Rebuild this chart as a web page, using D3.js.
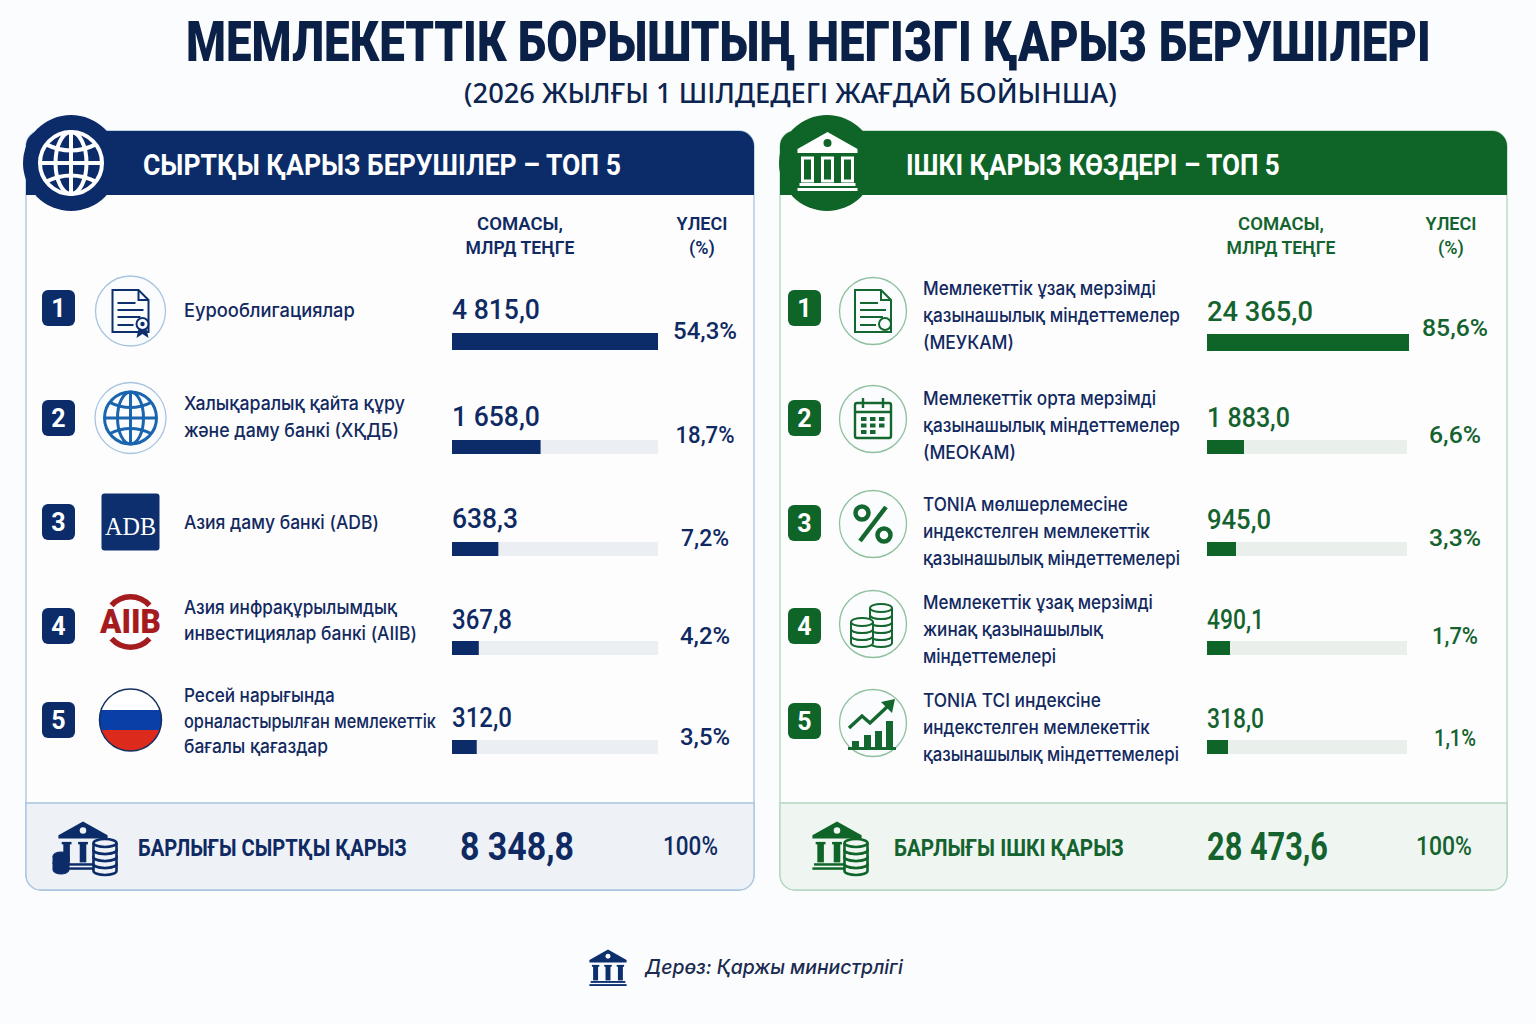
<!DOCTYPE html>
<html>
<head>
<meta charset="utf-8">
<script src="https://cdn.jsdelivr.net/npm/d3@7"></script>
<style>
  html, body { margin: 0; padding: 0; background: #fbfcfd; }
  svg { display: block; }
  text { font-family: Roboto, "Noto Sans", sans-serif; }
</style>
</head>
<body>
<div id="chart"></div>
<script>
// data
var titleText = "МЕМЛЕКЕТТІК БОРЫШТЫҢ НЕГІЗГІ ҚАРЫЗ БЕРУШІЛЕРІ";
var subtitleText = "(2026 ЖЫЛҒЫ 1 ШІЛДЕДЕГІ ЖАҒДАЙ БОЙЫНША)";
var sourceText = "Дерөз: Қаржы министрлігі";
var amountHead = ["СОМАСЫ,", "МЛРД ТЕҢГЕ"];
var shareHead = ["ҮЛЕСІ", "(%)"];

var extTitle = "СЫРТҚЫ ҚАРЫЗ БЕРУШІЛЕР – ТОП 5";
var extNames = [
  ["Еурооблигациялар"],
  ["Халықаралық қайта құру", "және даму банкі (ХҚДБ)"],
  ["Азия даму банкі (ADB)"],
  ["Азия инфрақұрылымдық", "инвестициялар банкі (AIIB)"],
  ["Ресей нарығында", "орналастырылған мемлекеттік", "бағалы қағаздар"]
];
var extValues = ["4 815,0", "1 658,0", "638,3", "367,8", "312,0"];
var extShares = ["54,3%", "18,7%", "7,2%", "4,2%", "3,5%"];
// drawn bar lengths in the picture, % of the track (not proportional to the amounts)
var extBars = [100, 43, 22.5, 13, 12];
var extTotalLabel = "БАРЛЫҒЫ СЫРТҚЫ ҚАРЫЗ";
var extTotal = "8 348,8";

var intTitle = "ІШКІ ҚАРЫЗ КӨЗДЕРІ – ТОП 5";
var intNames = [
  ["Мемлекеттік ұзақ мерзімді", "қазынашылық міндеттемелер", "(МЕУКАМ)"],
  ["Мемлекеттік орта мерзімді", "қазынашылық міндеттемелер", "(МЕОКАМ)"],
  ["TONIA мөлшерлемесіне", "индекстелген мемлекеттік", "қазынашылық міндеттемелері"],
  ["Мемлекеттік ұзақ мерзімді", "жинақ қазынашылық", "міндеттемелері"],
  ["TONIA TCI индексіне", "индекстелген мемлекеттік", "қазынашылық міндеттемелері"]
];
var intValues = ["24 365,0", "1 883,0", "945,0", "490,1", "318,0"];
var intShares = ["85,6%", "6,6%", "3,3%", "1,7%", "1,1%"];
var intBars = [101, 18.5, 14.5, 11.5, 10.5];
var intTotalLabel = "БАРЛЫҒЫ ІШКІ ҚАРЫЗ";
var intTotal = "28 473,6";
var totalShare = "100%";

var ranks = [1, 2, 3, 4, 5];

var svg = d3.select("#chart").append("svg")
  .attr("width", 1536).attr("height", 1024);

svg.append("rect").attr("width", 1536).attr("height", 1024).attr("fill", "#fbfcfd");

// text helper, scales x to the measured width like the condensed face in the picture
function label(g, str, x, y, o) {
  o = o || {};
  var t = g.append("text").text(str)
    .attr("dominant-baseline", "central")
    .attr("text-anchor", o.anchor || "start")
    .attr("font-size", o.size || 19)
    .attr("font-weight", o.weight || 400)
    .attr("fill", o.fill || "#12295f");
  if (o.family) t.style("font-family", o.family);
  if (o.style) t.attr("font-style", o.style);
  var k = o.w ? o.w / t.node().getComputedTextLength() : 1;
  t.attr("transform", "translate(" + x + "," + y + ") scale(" + k + ",1)");
  return t;
}

label(svg, titleText, 186, 42, { size: 56, weight: 900, fill: "#0a2047", w: 1245 });
label(svg, subtitleText, 464, 93, { size: 27, weight: 500, fill: "#0c2450", w: 653, family: "'Noto Sans', sans-serif" });

// icons, all drawn around 0,0
function bank(g, c, bg, solid) {
  g.append("path").attr("fill", c).attr("d", "M0,-30 L30,-13 L30,-9 L-30,-9 L-30,-13 Z");
  g.append("circle").attr("cy", -19).attr("r", 4).attr("fill", bg);
  [-20, 0, 20].forEach(function (x) {
    if (solid) {
      g.append("rect").attr("x", x - 6).attr("y", -5).attr("width", 12).attr("height", 3).attr("fill", c);
      g.append("rect").attr("x", x - 4).attr("y", -4).attr("width", 8).attr("height", 24).attr("fill", c);
    } else {
      g.append("rect").attr("x", x - 5).attr("y", -4).attr("width", 10).attr("height", 23)
        .attr("fill", "none").attr("stroke", c).attr("stroke-width", 3);
    }
  });
  g.append("rect").attr("x", -28).attr("y", 21).attr("width", 56).attr("height", 3).attr("fill", c);
  g.append("rect").attr("x", -30).attr("y", 26).attr("width", 60).attr("height", 3).attr("fill", c);
}

function globe(g, r, c, sw) {
  var s = g.append("g").attr("fill", "none").attr("stroke", c).attr("stroke-width", sw);
  s.append("circle").attr("r", r);
  s.append("ellipse").attr("rx", r * 0.5).attr("ry", r);
  s.append("line").attr("y1", -r).attr("y2", r);
  s.append("line").attr("x1", -r).attr("x2", r);
  s.append("path").attr("d", "M" + (-r * 0.8) + "," + (-r * 0.6) + " Q0," + (-r * 0.2) + " " + (r * 0.8) + "," + (-r * 0.6));
  s.append("path").attr("d", "M" + (-r * 0.8) + "," + (r * 0.6) + " Q0," + (r * 0.2) + " " + (r * 0.8) + "," + (r * 0.6));
}

function doc(g, c, seal) {
  g.append("path").attr("fill", "#fbfcfd").attr("stroke", c).attr("stroke-width", 2)
    .attr("d", "M-18,-21 H8 L18,-11 V21 H-18 Z");
  g.append("path").attr("fill", "none").attr("stroke", c).attr("stroke-width", 2)
    .attr("d", "M8,-21 V-11 H18 M-13,-8 H5 M-13,-1 H13 M-13,6 H10 M-13,14 H3");
  g.append("circle").attr("cx", 12).attr("cy", 13).attr("r", 6).attr("fill", "#fbfcfd")
    .attr("stroke", c).attr("stroke-width", 2);
  if (seal) {
    g.append("path").attr("fill", c).attr("d", "M8,18 L6,27 L12,23 L18,27 L16,18 Z");
    g.append("circle").attr("cx", 12).attr("cy", 13).attr("r", 2.2).attr("fill", c);
  }
}

function calendar(g, c) {
  var s = g.append("g").attr("fill", "none").attr("stroke", c).attr("stroke-width", 2.4);
  s.append("rect").attr("x", -18).attr("y", -16).attr("width", 36).attr("height", 35).attr("rx", 2);
  s.append("path").attr("d", "M-18,-7 H18 M-10,-21 V-11 M10,-21 V-11");
  d3.range(3).forEach(function (i) {
    d3.range(3).forEach(function (j) {
      if (j == 2 && i == 2) return;
      g.append("rect").attr("x", -12 + i * 9).attr("y", -2 + j * 6.5)
        .attr("width", 5.5).attr("height", 4).attr("fill", c);
    });
  });
}

function percent(g, c) {
  var s = g.append("g").attr("fill", "none").attr("stroke", c).attr("stroke-width", 4.5);
  s.append("circle").attr("cx", -11).attr("cy", -11).attr("r", 6.5);
  s.append("circle").attr("cx", 11).attr("cy", 11).attr("r", 6.5);
  s.append("line").attr("x1", 13).attr("y1", -17).attr("x2", -13).attr("y2", 17);
}

function coinStack(g, x, bottom, n, c, w, bg, sw) {
  d3.range(n).forEach(function (i) {
    var y = bottom - i * 7;
    g.append("path").attr("fill", bg).attr("stroke", c).attr("stroke-width", sw || 2)
      .attr("d", "M" + (x - w) + "," + (y - 7) + " V" + y + " A" + w + ",4 0 0 0 " + (x + w) + "," + y + " V" + (y - 7));
    g.append("ellipse").attr("cx", x).attr("cy", y - 7).attr("rx", w).attr("ry", 4)
      .attr("fill", bg).attr("stroke", c).attr("stroke-width", sw || 2);
  });
}

function coins(g, c) {
  coinStack(g, 8, 19, 5, c, 11, "#fbfcfd");
  coinStack(g, -11, 19, 3, c, 11, "#fbfcfd");
}

function growth(g, c) {
  [[-21, 10, 8], [-9, 4, 14], [2, 0, 18], [13, -10, 28]].forEach(function (b) {
    g.append("rect").attr("x", b[0]).attr("y", b[1] + 8).attr("width", 7).attr("height", b[2] - 1).attr("fill", c);
  });
  g.append("rect").attr("x", -25).attr("y", 24).attr("width", 48).attr("height", 3).attr("fill", c);
  g.append("path").attr("fill", "none").attr("stroke", c).attr("stroke-width", 3.5)
    .attr("d", "M-24,5 L-11,-7 L-3,0 L15,-17");
  g.append("path").attr("fill", c).attr("d", "M8,-21 L22,-24 L19,-10 Z");
}

function adb(g) {
  g.append("rect").attr("x", -29).attr("y", -28.5).attr("width", 58).attr("height", 57).attr("rx", 3).attr("fill", "#0d2f6e");
  label(g, "ADB", 0, 4, { size: 26, anchor: "middle", fill: "#fff", family: "'Liberation Serif', serif", w: 51 });
}

function aiib(g) {
  var red = "#a51c1f";
  var arc = d3.arc().innerRadius(22.5).outerRadius(28);
  g.append("path").attr("fill", red).attr("d", arc({ startAngle: -0.85, endAngle: 0.85 }));
  g.append("path").attr("fill", red).attr("d", arc({ startAngle: Math.PI - 0.85, endAngle: Math.PI + 0.85 }));
  label(g, "AIIB", 0, 0, { size: 33, weight: 900, anchor: "middle", fill: red, w: 61 });
}

function flag(g) {
  var r = 31;
  var id = "flagclip";
  g.append("clipPath").attr("id", id).append("circle").attr("r", r);
  var f = g.append("g").attr("clip-path", "url(#" + id + ")");
  f.append("rect").attr("x", -r).attr("y", -r).attr("width", 2 * r).attr("height", 2 * r).attr("fill", "#ffffff");
  f.append("rect").attr("x", -r).attr("y", -10).attr("width", 2 * r).attr("height", 20).attr("fill", "#0b3fa8");
  f.append("rect").attr("x", -r).attr("y", 10).attr("width", 2 * r).attr("height", 21).attr("fill", "#dc2a1c");
  g.append("circle").attr("r", r).attr("fill", "none").attr("stroke", "#14305f").attr("stroke-width", 1.5);
}

function ring(g, r, c) {
  g.append("circle").attr("r", r).attr("fill", "#fbfcfd").attr("stroke", c).attr("stroke-width", 1.3);
}

function extIcon(g, i) {
  if (i == 0) { ring(g, 35, "#a9c4df"); doc(g, "#0d2f6e", true); }
  if (i == 1) { ring(g, 35.5, "#a9c4df"); globe(g, 26, "#1b64ae", 3); }
  if (i == 2) adb(g);
  if (i == 3) aiib(g);
  if (i == 4) flag(g);
}

function intIcon(g, i) {
  ring(g, 33.5, "#8fc09f");
  var c = "#14672f";
  if (i == 0) doc(g, c, false);
  if (i == 1) calendar(g, c);
  if (i == 2) percent(g, c);
  if (i == 3) coins(g, c);
  if (i == 4) growth(g, c);
}

// one panel
function panel(p) {
  var g = svg.append("g");
  var w = p.w, x0 = p.x, x1 = p.x + w, top = 131, foot = 803, bot = 890;

  g.append("rect").attr("x", x0).attr("y", top).attr("width", w).attr("height", bot - top)
    .attr("rx", 15).attr("fill", "#fdfdfe").attr("stroke", p.border).attr("stroke-width", 1.3);
  g.append("path").attr("fill", p.tint).attr("stroke", p.border).attr("stroke-width", 1.3)
    .attr("d", "M" + x0 + "," + foot + " H" + x1 + " V" + (bot - 15) + " a15,15 0 0 1 -15,15 H" + (x0 + 15) + " a15,15 0 0 1 -15,-15 Z");
  g.append("path").attr("fill", p.dark)
    .attr("d", "M" + x0 + ",195 V" + (top + 15) + " a15,15 0 0 1 15,-15 H" + (x1 - 15) + " a15,15 0 0 1 15,15 V195 Z");

  g.append("circle").attr("cx", p.circleX).attr("cy", 163).attr("r", 48).attr("fill", p.dark);
  p.headIcon(g.append("g").attr("transform", "translate(" + p.circleX + ",163)"));

  label(g, p.title, p.titleX, 165, { size: 29, weight: 700, fill: "#fff", w: p.titleW });

  amountHead.forEach(function (s, i) {
    label(g, s, p.amountX, 223.5 + i * 24, { size: 18, weight: 600, anchor: "middle", fill: p.headFill, w: [86, 109][i] });
  });
  shareHead.forEach(function (s, i) {
    label(g, s, p.shareHeadX, 223.5 + i * 24, { size: 18, weight: 600, anchor: "middle", fill: p.headFill });
  });

  var x = d3.scaleLinear().domain([0, 100]).range([0, p.trackW]);

  ranks.forEach(function (r, i) {
    var row = p.rows[i];
    g.append("rect").attr("x", p.badgeX).attr("y", row.badge - 18).attr("width", 33).attr("height", 36)
      .attr("rx", 6).attr("fill", p.dark);
    label(g, r, p.badgeX + 16.5, row.badge, { size: 25, weight: 700, anchor: "middle", fill: "#fff" });

    p.icon(g.append("g").attr("transform", "translate(" + p.iconX + "," + row.icon + ")"), i);

    p.names[i].forEach(function (s, j) {
      var n = p.names[i].length;
      label(g, s, p.nameX, row.name + (j - (n - 1) / 2) * row.lead, {
        size: 18.5, weight: 500, fill: "#12295f", family: "Inter, 'Noto Sans', sans-serif", w: row.widths[j]
      });
    });

    label(g, p.values[i], p.barX, row.value, { size: 28, weight: 500, fill: p.valueFill, w: p.valueW[i] });

    var h = i == 0 ? 17 : 14;
    g.append("rect").attr("x", p.barX).attr("y", row.bar).attr("width", x(100)).attr("height", h).attr("fill", p.track);
    g.append("rect").attr("x", p.barX).attr("y", row.bar).attr("width", x(p.bars[i])).attr("height", h).attr("fill", p.dark);

    label(g, p.shares[i], p.shareX, row.share, { size: 24, weight: 500, anchor: "middle", fill: p.valueFill, w: p.shareW[i] });
  });

  var ti = g.append("g").attr("transform", "translate(" + p.bankX + ",846)");
  bank(ti.append("g").attr("transform", "scale(0.82)"), p.dark, p.tint, true);
  if (p.smallPile) coinStack(ti, -22, 24, 2, p.dark, 8, p.dark, 1);
  coinStack(ti, p.coinX, 25, 4, p.dark, 11.5, p.tint, 2.6);

  label(g, p.totalLabel, p.totalLabelX, 847, { size: 24, weight: 700, fill: p.headFill, w: p.totalLabelW });
  label(g, p.total, p.totalX, 847, { size: 38, weight: 700, fill: p.headFill, w: p.totalW });
  label(g, totalShare, p.pctX, 846, { size: 26, weight: 500, fill: p.headFill, w: p.pctW });
}

panel({
  x: 26, w: 728, circleX: 71, dark: "#0b2c69", border: "#a9c4df", tint: "#eef2f7", track: "#ebeef3",
  title: extTitle, titleX: 143, titleW: 478, headFill: "#0f2a63", valueFill: "#0f2a63",
  amountX: 520, shareHeadX: 702, badgeX: 42, iconX: 130.5, nameX: 184, barX: 452, trackW: 206, shareX: 705,
  names: extNames, values: extValues, shares: extShares, bars: extBars,
  valueW: [88, 88, 66, 60, 60], shareW: [64, 59, 48, 50, 50],
  icon: extIcon, headIcon: function (g) { globe(g, 31, "#fff", 4); },
  rows: [
    { badge: 308, icon: 311, name: 310, lead: 27, value: 310, bar: 333, share: 331, widths: [171] },
    { badge: 418, icon: 418, name: 416, lead: 27, value: 417, bar: 440, share: 435, widths: [221, 215] },
    { badge: 522, icon: 522, name: 522, lead: 27, value: 519, bar: 542, share: 538, widths: [195] },
    { badge: 626, icon: 622, name: 620, lead: 26, value: 619, bar: 641, share: 636, widths: [213, 233] },
    { badge: 720, icon: 720, name: 721, lead: 25.5, value: 717, bar: 740, share: 737, widths: [151, 252, 144] }
  ],
  bankX: 83, coinX: 22, smallPile: true, totalLabel: extTotalLabel, totalLabelX: 138, totalLabelW: 269,
  total: extTotal, totalX: 460, totalW: 114, pctX: 663, pctW: 55
});

panel({
  x: 780, w: 727, circleX: 827, dark: "#0f6428", border: "#b4d6c0", tint: "#eff5f1", track: "#e9f0eb",
  title: intTitle, titleX: 906, titleW: 374, headFill: "#14632e", valueFill: "#14632e",
  amountX: 1281, shareHeadX: 1451, badgeX: 788, iconX: 873, nameX: 923, barX: 1207, trackW: 200, shareX: 1455,
  names: intNames, values: intValues, shares: intShares, bars: intBars,
  valueW: [106, 83, 64, 57, 57], shareW: [66, 52, 52, 46, 42],
  icon: intIcon, headIcon: function (g) { g.attr("transform", "translate(827.5,162)"); bank(g, "#fff", "#0f6428"); },
  rows: [
    { badge: 308, icon: 311, name: 315, lead: 27, value: 311, bar: 334, share: 328, widths: [233, 257, 91] },
    { badge: 418, icon: 419, name: 425, lead: 27, value: 417, bar: 440, share: 435, widths: [233, 257, 93] },
    { badge: 523, icon: 524, name: 531, lead: 27, value: 520, bar: 542, share: 538, widths: [205, 227, 257] },
    { badge: 626, icon: 624, name: 629, lead: 27, value: 619, bar: 641, share: 636, widths: [230, 180, 133] },
    { badge: 721, icon: 723, name: 727, lead: 27, value: 718, bar: 740, share: 737, widths: [178, 227, 256] }
  ],
  bankX: 837, coinX: 19, smallPile: false, totalLabel: intTotalLabel, totalLabelX: 894, totalLabelW: 230,
  total: intTotal, totalX: 1207, totalW: 121, pctX: 1416, pctW: 56
});

// source line
bank(svg.append("g").attr("transform", "translate(608,968) scale(0.62)"), "#0d2f6e", "#fbfcfd", true);
label(svg, sourceText, 645, 967, { size: 20, weight: 500, style: "italic", fill: "#1a2b4f", w: 258, family: "Inter, 'Noto Sans', sans-serif" });
</script>
</body>
</html>
